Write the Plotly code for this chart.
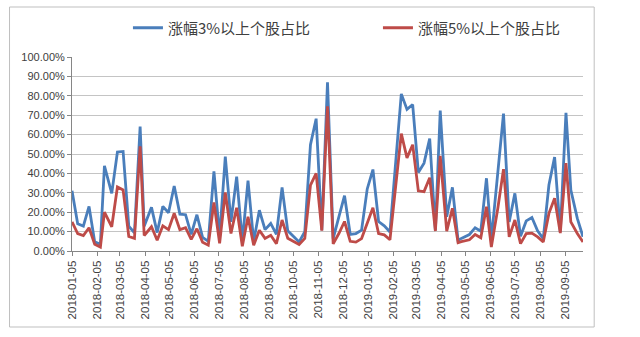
import plotly.graph_objects as go

# Weekly observation dates (last trading day of each week)
dates = [
    "2018-01-05", "2018-01-12", "2018-01-19", "2018-01-26",
    "2018-02-02", "2018-02-09", "2018-02-14", "2018-02-23",
    "2018-03-02", "2018-03-09", "2018-03-16", "2018-03-23", "2018-03-30",
    "2018-04-04", "2018-04-13", "2018-04-20", "2018-04-27",
    "2018-05-04", "2018-05-11", "2018-05-18", "2018-05-25",
    "2018-06-01", "2018-06-08", "2018-06-15", "2018-06-22", "2018-06-29",
    "2018-07-06", "2018-07-13", "2018-07-20", "2018-07-27",
    "2018-08-03", "2018-08-10", "2018-08-17", "2018-08-24", "2018-08-31",
    "2018-09-07", "2018-09-14", "2018-09-21", "2018-09-28",
    "2018-10-12", "2018-10-19", "2018-10-26",
    "2018-11-02", "2018-11-09", "2018-11-16", "2018-11-23", "2018-11-30",
    "2018-12-07", "2018-12-14", "2018-12-21", "2018-12-28",
    "2019-01-04", "2019-01-11", "2019-01-18", "2019-01-25",
    "2019-02-01", "2019-02-15", "2019-02-22",
    "2019-03-01", "2019-03-08", "2019-03-15", "2019-03-22", "2019-03-29",
    "2019-04-04", "2019-04-12", "2019-04-19", "2019-04-26", "2019-04-30",
    "2019-05-10", "2019-05-17", "2019-05-24", "2019-05-31",
    "2019-06-06", "2019-06-14", "2019-06-21", "2019-06-28",
    "2019-07-05", "2019-07-12", "2019-07-19", "2019-07-26",
    "2019-08-02", "2019-08-09", "2019-08-16", "2019-08-23", "2019-08-30",
    "2019-09-06", "2019-09-12", "2019-09-20", "2019-09-27",
]

# Share of stocks rising more than 3% (percent)
up_3pct = [
    31.0, 14.0, 12.8, 23.0,
    4.7, 3.5, 43.9, 29.7,
    51.0, 51.3, 12.8, 9.3, 64.2,
    12.8, 22.5, 9.5, 23.0,
    19.7, 33.5, 19.0, 18.7,
    8.6, 18.7, 7.0, 5.0, 41.0,
    7.3, 48.7, 15.0, 38.3,
    5.0, 36.3, 5.0, 21.0, 11.0,
    14.2, 8.6, 32.8, 10.4,
    4.7, 9.9, 54.8,
    68.2, 10.7, 87.0, 6.4, 17.6,
    28.5, 8.6, 9.0, 10.7,
    32.0, 42.0, 15.2, 13.0,
    9.8, 81.0, 73.0,
    75.5, 40.5, 45.3, 58.0, 10.7,
    72.4, 17.6, 32.8, 5.5, 6.5,
    8.5, 12.0, 10.2, 37.5,
    6.0, 39.0, 70.8, 15.0,
    29.7, 7.6, 15.5, 17.3,
    10.4, 6.4, 34.0, 48.4, 9.8,
    71.2, 31.4, 16.8, 7.3,
]

# Share of stocks rising more than 5% (percent)
up_5pct = [
    15.0, 9.0, 8.0, 12.0,
    3.5, 2.0, 20.0, 12.5,
    33.0, 31.5, 7.5, 6.5, 54.0,
    8.0, 12.5, 5.5, 13.0,
    11.0, 19.5, 11.0, 12.0,
    6.0, 11.5, 4.5, 3.0, 25.0,
    4.0, 30.2, 9.0, 22.3,
    2.4, 17.6, 3.0, 10.7, 6.5,
    8.1, 3.8, 16.0, 6.6,
    3.4, 6.5, 34.0,
    40.0, 10.5, 74.6, 3.7, 9.0,
    15.2, 5.0, 4.6, 6.4,
    14.5, 22.3, 9.0, 8.3,
    5.8, 60.5, 48.0,
    54.8, 31.0, 30.6, 37.8, 10.3,
    49.0, 10.2, 22.0, 4.3, 4.8,
    5.8, 8.5, 6.8, 22.8,
    2.0, 22.0, 42.2, 7.3,
    16.0, 3.8, 9.0, 9.2,
    7.3, 4.7, 19.4, 27.2, 9.2,
    45.3, 15.0, 9.0, 4.7,
]

# Monthly axis ticks
tick_dates = [
    "2018-01-05", "2018-02-05", "2018-03-05", "2018-04-05", "2018-05-05",
    "2018-06-05", "2018-07-05", "2018-08-05", "2018-09-05", "2018-10-05",
    "2018-11-05", "2018-12-05", "2019-01-05", "2019-02-05", "2019-03-05",
    "2019-04-05", "2019-05-05", "2019-06-05", "2019-07-05", "2019-08-05",
    "2019-09-05",
]

series_names = ["涨幅3%以上个股占比", "涨幅5%以上个股占比"]

W, H = 640, 337
ML, MR, MT, MB = 72, 20, 57, 86
PW, PH = W - ML - MR, H - MT - MB

blue = "#4A7EBB"
red = "#BE4B48"
text_col = "#404040"
grid_col = "#c4c4c4"

fig = go.Figure()
fig.add_trace(go.Scatter(
    x=dates, y=[v / 100 for v in up_3pct], mode="lines", name=series_names[0],
    line=dict(color=blue, width=2.8),
))
fig.add_trace(go.Scatter(
    x=dates, y=[v / 100 for v in up_5pct], mode="lines", name=series_names[1],
    line=dict(color=red, width=2.8),
))


def px_x(p):
    return (p - ML) / PW


def px_y(p):
    return (H - MB - p) / PH


# Outer chart frame
fig.add_shape(
    type="rect", xref="paper", yref="paper",
    x0=px_x(5), x1=px_x(632), y0=px_y(327), y1=px_y(7),
    line=dict(color="#bfbfbf", width=1), fillcolor="rgba(0,0,0,0)", layer="below",
)

fig.update_layout(
    width=W, height=H,
    margin=dict(l=ML, r=MR, t=MT, b=MB, pad=0),
    paper_bgcolor="white", plot_bgcolor="white",
    showlegend=True,
    legend=dict(
        orientation="h", x=px_x(132), xanchor="left", y=px_y(28), yanchor="middle",
        font=dict(family="Noto Sans CJK SC", size=15, color=text_col),
        itemwidth=30, entrywidth=205, entrywidthmode="pixels",
        bgcolor="rgba(0,0,0,0)",
    ),
    xaxis=dict(
        type="date", range=["2018-01-05", "2019-09-27"],
        tickvals=tick_dates, ticktext=tick_dates, tickangle=-90,
        tickfont=dict(family="Liberation Sans", size=11.5, color=text_col),
        ticks="outside", ticklen=4, tickcolor="#868686",
        showline=True, linecolor="#868686", linewidth=1,
        showgrid=False, zeroline=False,
    ),
    yaxis=dict(
        range=[0, 1], dtick=0.1, tick0=0, tickformat=".2%",
        tickfont=dict(family="Liberation Sans", size=11, color=text_col),
        ticks="outside", ticklen=4, tickcolor="#868686",
        showline=True, linecolor="#868686", linewidth=1,
        showgrid=True, gridcolor=grid_col, gridwidth=1.3,
        zeroline=False,
    ),
)

fig.write_html("out.html")
